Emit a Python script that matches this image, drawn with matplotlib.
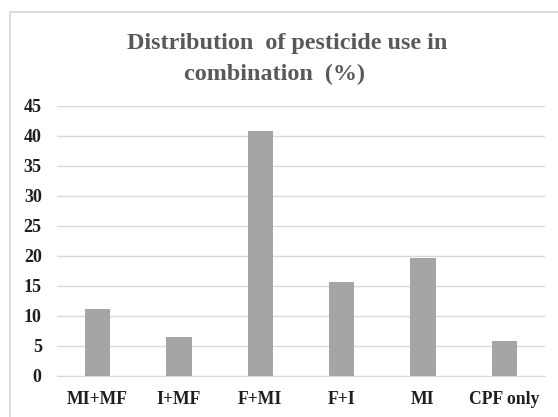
import matplotlib
matplotlib.use("Agg")
import matplotlib.pyplot as plt
from matplotlib.patches import Rectangle

categories = ["MI+MF", "I+MF", "F+MI", "F+I", "MI", "CPF only"]
values = [11.1, 6.5, 40.8, 15.7, 19.6, 5.8]
yticks = [0, 5, 10, 15, 20, 25, 30, 35, 40, 45]
title_lines = ["Distribution  of pesticide use in", "combination  (%)"]

plt.rcParams['font.family'] = ['Liberation Serif', 'DejaVu Serif']

W, H = 558, 417
fig = plt.figure(figsize=(W / 100, H / 100), dpi=100)
fig.patch.set_facecolor("white")
# outer chart frame (extends past right and bottom edges)
fig.add_artist(Rectangle((9.5 / W, -0.05), 1.0, 1 - 11.5 / H + 0.05, transform=fig.transFigure,
                         fill=False, edgecolor="#d9d9d9", linewidth=1.3))

ax = fig.add_axes([57 / W, (H - 375.7) / H, (545 - 57) / W, 270 / H])
x = list(range(len(categories)))
ax.bar(x, values, width=0.31, color="#a5a5a5", zorder=3)
ax.set_xlim(-0.5, len(categories) - 0.5)
ax.set_ylim(0, 45)
ax.set_yticks(yticks)
ax.set_yticklabels([str(t) for t in yticks], fontsize=13, fontweight="bold", color="#1f1f1f")
ax.set_xticks(x)
ax.set_xticklabels(categories, fontsize=12.7, fontweight="bold", color="#1f1f1f")
ax.grid(axis="y", color="#d9d9d9", linewidth=1, zorder=0)
for s in ["top", "right", "left"]:
    ax.spines[s].set_visible(False)
ax.spines["bottom"].set_color("#d9d9d9")
ax.tick_params(axis="both", length=0)
ax.tick_params(axis="y", pad=11)
ax.tick_params(axis="x", pad=11)

fig.text(287.5 / W, 1 - 49 / H, title_lines[0], ha="center", va="baseline",
         fontsize=17.4, fontweight="bold", color="#595959")
fig.text(275 / W, 1 - 80 / H, title_lines[1], ha="center", va="baseline",
         fontsize=17.4, fontweight="bold", color="#595959")

fig.savefig("out.png", dpi=100)
